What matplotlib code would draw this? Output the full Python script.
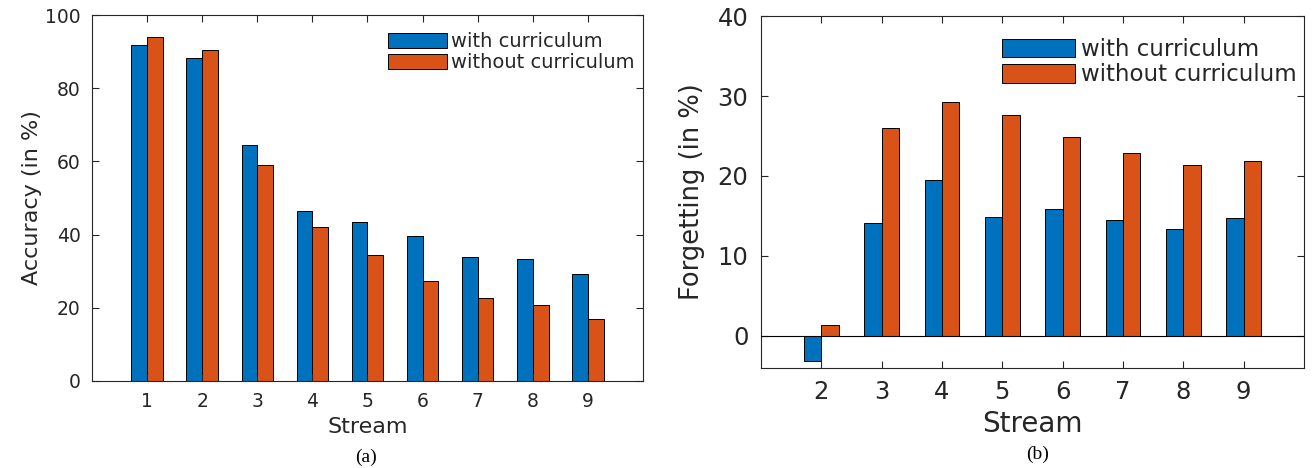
import matplotlib
matplotlib.use("Agg")
import matplotlib.pyplot as plt
import numpy as np

# ---------------- data ----------------
streams_acc = [1, 2, 3, 4, 5, 6, 7, 8, 9]
acc_with = [91.9, 88.2, 64.5, 46.4, 43.4, 39.7, 33.8, 33.2, 29.2]
acc_without = [94.1, 90.4, 59.0, 42.2, 34.4, 27.2, 22.6, 20.8, 17.0]

streams_fgt = [2, 3, 4, 5, 6, 7, 8, 9]
fgt_with = [-3.1, 14.1, 19.5, 14.9, 15.9, 14.5, 13.4, 14.7]
fgt_without = [1.4, 26.0, 29.2, 27.6, 24.9, 22.9, 21.4, 21.9]

series_labels = ["with curriculum", "without curriculum"]
acc_yticks = [0, 20, 40, 60, 80, 100]
fgt_yticks = [0, 10, 20, 30, 40]

BLUE = "#0072BD"
ORANGE = "#D95319"
TXT = "#262626"

plt.rcParams["font.family"] = ["DejaVu Sans"]

fig = plt.figure(figsize=(13.12, 4.68), dpi=100)

bw = 0.286  # MATLAB grouped bar width per series


def style_axes(ax, fs, pad):
    for s in ax.spines.values():
        s.set_color(TXT)
        s.set_linewidth(0.8)
    ax.tick_params(direction="in", top=True, right=True, length=5,
                   width=0.8, color=TXT, labelcolor=TXT, labelsize=fs, pad=pad)


# ---------------- (a) accuracy ----------------
ax1 = fig.add_axes([0.0701, 0.1859, 0.4200, 0.7820])
x1 = np.array(streams_acc, dtype=float)
ax1.bar(x1 - bw / 2, acc_with, bw, color=BLUE, edgecolor="black",
        linewidth=0.7, label=series_labels[0])
ax1.bar(x1 + bw / 2, acc_without, bw, color=ORANGE, edgecolor="black",
        linewidth=0.7, label=series_labels[1])
ax1.set_xlim(0, 10)
ax1.set_ylim(0, 100)
ax1.set_xticks(streams_acc)
ax1.set_yticks(acc_yticks)
style_axes(ax1, 13.5, 8)
ax1.set_xlabel("Stream", fontsize=16, color=TXT, labelpad=4)
ax1.set_ylabel("Accuracy (in %)", fontsize=16, color=TXT, labelpad=2)
leg1 = ax1.legend(frameon=False, fontsize=14, loc="upper left",
                  bbox_to_anchor=(388 / 1312, 1 - 32 / 468),
                  bbox_transform=fig.transFigure, borderpad=0,
                  borderaxespad=0, handlelength=3.05, handleheight=0.82,
                  handletextpad=0.2, labelspacing=0.1)
for t in leg1.get_texts():
    t.set_color(TXT)

# ---------------- (b) forgetting ----------------
ax2 = fig.add_axes([0.5800, 0.2137, 0.4139, 0.7521])
x2 = np.array(streams_fgt, dtype=float)
ax2.bar(x2 - bw / 2, fgt_with, bw, color=BLUE, edgecolor="black",
        linewidth=0.7, label=series_labels[0])
ax2.bar(x2 + bw / 2, fgt_without, bw, color=ORANGE, edgecolor="black",
        linewidth=0.7, label=series_labels[1])
ax2.axhline(0, color="black", linewidth=0.8, zorder=3)
ax2.set_xlim(1, 10)
ax2.set_ylim(-4, 40)
ax2.set_xticks(streams_fgt)
ax2.set_yticks(fgt_yticks)
style_axes(ax2, 17.5, 9)
ax2.set_xlabel("Stream", fontsize=20, color=TXT, labelpad=4)
ax2.set_ylabel("Forgetting (in %)", fontsize=18.5, color=TXT, labelpad=9)
leg2 = ax2.legend(frameon=False, fontsize=16.5, loc="upper left",
                  bbox_to_anchor=(1002 / 1312, 1 - 38 / 468),
                  bbox_transform=fig.transFigure, borderpad=0,
                  borderaxespad=0, handlelength=3.2, handleheight=0.87,
                  handletextpad=0.25, labelspacing=0.1)
for t in leg2.get_texts():
    t.set_color(TXT)

# captions
fig.text(366 / 1312, 1 - 457 / 468, "(a)", ha="center", va="center",
         fontsize=14, family="Liberation Serif", color="black")
fig.text(1038 / 1312, 1 - 454 / 468, "(b)", ha="center", va="center",
         fontsize=14, family="Liberation Serif", color="black")

fig.savefig("out.png", dpi=100)
